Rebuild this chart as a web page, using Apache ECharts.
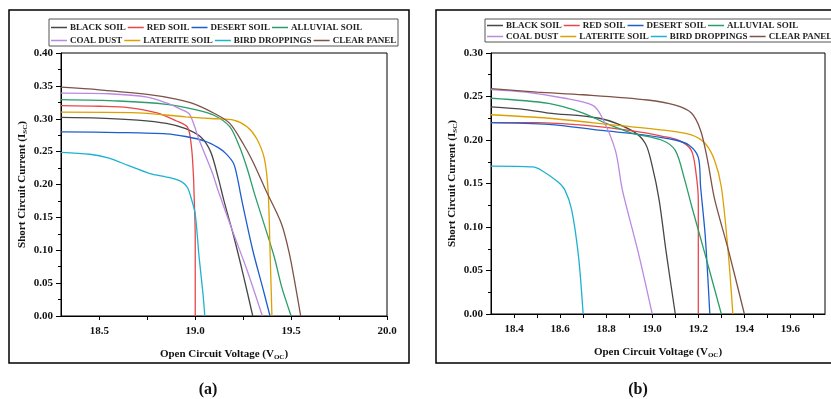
<!DOCTYPE html>
<html>
<head>
<meta charset="utf-8">
<script src="https://cdn.jsdelivr.net/npm/echarts@6/dist/echarts.min.js"></script>
<style>
  html, body { margin: 0; padding: 0; background: #fff; }
  #chart { width: 831px; height: 399px; }
</style>
</head>
<body>
<div id="chart"></div>
<script>
// series names, in legend order
const names = ['BLACK SOIL', 'RED SOIL', 'DESERT SOIL', 'ALLUVIAL SOIL',
               'COAL DUST', 'LATERITE SOIL', 'BIRD DROPPINGS', 'CLEAR PANEL'];

// panel (a): [Voc, Isc]
const aBlack = [[18.3,0.302],[18.5,0.301],[18.7,0.298],[18.85,0.293],[18.95,0.285],[19.03,0.272],[19.08,0.25],[19.12,0.21],[19.15,0.175],[19.2,0.122],[19.25,0.063],[19.3,0]];
const aRed = [[18.3,0.320],[18.5,0.319],[18.65,0.317],[18.8,0.309],[18.9,0.297],[18.96,0.287],[18.98,0.258],[18.99,0.217],[18.995,0.176],[19.0,0.12],[19.0,0]];
const aDesert = [[18.3,0.280],[18.6,0.279],[18.85,0.277],[18.95,0.273],[19.05,0.266],[19.12,0.256],[19.16,0.247],[19.2,0.232],[19.22,0.21],[19.24,0.18],[19.3,0.10],[19.35,0.045],[19.39,0]];
const aAlluvial = [[18.3,0.329],[18.6,0.327],[18.85,0.322],[19.0,0.314],[19.1,0.305],[19.18,0.288],[19.23,0.258],[19.27,0.225],[19.31,0.185],[19.41,0.092],[19.45,0.045],[19.5,0]];
const aCoal = [[18.3,0.339],[18.55,0.338],[18.75,0.333],[18.85,0.324],[18.92,0.315],[18.97,0.307],[19.02,0.268],[19.09,0.217],[19.12,0.19],[19.2,0.125],[19.27,0.07],[19.35,0]];
const aLaterite = [[18.3,0.310],[18.7,0.309],[18.95,0.303],[19.1,0.300],[19.2,0.298],[19.27,0.288],[19.32,0.27],[19.36,0.24],[19.38,0.19],[19.39,0.1],[19.4,0]];
const aBird = [[18.3,0.249],[18.45,0.246],[18.55,0.24],[18.65,0.229],[18.76,0.217],[18.87,0.21],[18.93,0.204],[18.96,0.195],[18.98,0.178],[19.0,0.155],[19.02,0.09],[19.04,0.035],[19.05,0]];
const aClear = [[18.3,0.348],[18.5,0.344],[18.75,0.337],[18.9,0.330],[19.0,0.322],[19.1,0.308],[19.18,0.293],[19.25,0.262],[19.3,0.235],[19.37,0.19],[19.45,0.14],[19.49,0.096],[19.52,0.05],[19.55,0]];

// panel (b)
const bBlack = [[18.3,0.238],[18.45,0.235],[18.55,0.231],[18.77,0.225],[18.91,0.211],[18.97,0.196],[19.0,0.17],[19.03,0.131],[19.06,0.072],[19.1,0]];
const bRed = [[18.3,0.22],[18.5,0.22],[18.7,0.217],[18.9,0.211],[19.05,0.204],[19.12,0.199],[19.17,0.188],[19.19,0.162],[19.2,0.13],[19.2,0]];
const bDesert = [[18.3,0.22],[18.55,0.218],[18.78,0.211],[18.96,0.206],[19.1,0.2],[19.16,0.194],[19.2,0.18],[19.21,0.146],[19.23,0.09],[19.25,0]];
const bAlluvial = [[18.3,0.248],[18.55,0.242],[18.7,0.231],[18.8,0.219],[18.91,0.208],[19.04,0.2],[19.1,0.188],[19.14,0.155],[19.17,0.125],[19.23,0.068],[19.3,0]];
const bCoal = [[18.3,0.258],[18.45,0.255],[18.62,0.248],[18.74,0.24],[18.78,0.227],[18.84,0.188],[18.87,0.143],[18.94,0.07],[19.0,0]];
const bLaterite = [[18.3,0.229],[18.55,0.225],[18.84,0.217],[19.06,0.211],[19.17,0.206],[19.23,0.196],[19.27,0.177],[19.3,0.146],[19.33,0.07],[19.35,0]];
const bBird = [[18.3,0.17],[18.48,0.169],[18.52,0.165],[18.59,0.152],[18.62,0.143],[18.65,0.12],[18.68,0.066],[18.7,0]];
const bClear = [[18.3,0.259],[18.5,0.255],[18.7,0.252],[18.98,0.246],[19.1,0.24],[19.17,0.231],[19.21,0.211],[19.24,0.177],[19.27,0.133],[19.33,0.074],[19.4,0]];

// tick labels
const aXLabels = [18.5, 19.0, 19.5, 20.0];
const aXTicks = [18.5, 18.75, 19.0, 19.25, 19.5, 19.75, 20.0];
const bXLabels = [18.4, 18.6, 18.8, 19.0, 19.2, 19.4, 19.6];
const bXTicks = [18.4, 18.5, 18.6, 18.7, 18.8, 18.9, 19.0, 19.1, 19.2, 19.3, 19.4, 19.5, 19.6, 19.7];

const colors = ['#474747', '#e8474a', '#1d5ecf', '#2a9d68', '#b98ae0', '#dca000', '#1db2d2', '#7e5249'];
const serif = '"Liberation Serif", "Times New Roman", serif';

const chart = echarts.init(document.getElementById('chart'));

const nameRich = {
    n: { fontFamily: serif, fontWeight: 'bold', fontSize: 11, color: '#111', lineHeight: 14 },
    s: { fontFamily: serif, fontWeight: 'bold', fontSize: 7, color: '#111', lineHeight: 9, verticalAlign: 'bottom' }
};
const labelStyle = { fontFamily: serif, fontWeight: 'bold', fontSize: 11, color: '#111' };

function xAxis(gridIndex, min, max, labels, ticks) {
    return {
        type: 'value', gridIndex, min, max,
        name: '{n|Open Circuit Voltage (V}{s|OC}{n|)}',
        nameLocation: 'middle', nameGap: 31,
        nameTextStyle: { rich: nameRich },
        axisLine: { show: true, lineStyle: { color: '#000', width: 1 } },
        axisTick: { show: true, inside: false, length: 4, customValues: ticks, lineStyle: { color: '#000' } },
        axisLabel: { ...labelStyle, margin: 10, customValues: labels, formatter: v => v.toFixed(1) },
        splitLine: { show: false }
    };
}
function yAxis(gridIndex, max) {
    return {
        type: 'value', gridIndex, min: 0, max, interval: 0.05,
        name: '{n|Short Circuit Current (I}{s|SC}{n|)}',
        nameLocation: 'middle', nameGap: 32, nameRotate: 90,
        nameTextStyle: { rich: nameRich },
        axisLine: { show: true, lineStyle: { color: '#000', width: 1 } },
        axisTick: { show: true, inside: false, length: 5, lineStyle: { color: '#000' } },
        minorTick: { show: true, splitNumber: 2, length: 3, lineStyle: { color: '#000' } },
        axisLabel: { ...labelStyle, margin: 8, formatter: v => v.toFixed(2) },
        splitLine: { show: false }
    };
}
function legend(left, top, data) {
    return {
        left, top, data, width: 600, orient: 'horizontal', padding: 0,
        icon: 'rect', itemWidth: 16, itemHeight: 1.5, itemGap: 2,
        selectedMode: false,
        textStyle: { fontFamily: serif, fontWeight: 'bold', fontSize: 9, color: '#222', padding: [0, 0, 0, -2] }
    };
}

const aData = [aBlack, aRed, aDesert, aAlluvial, aCoal, aLaterite, aBird, aClear];
const bData = [bBlack, bRed, bDesert, bAlluvial, bCoal, bLaterite, bBird, bClear];

const series = [];
[aData, bData].forEach((set, p) => {
    set.forEach((d, i) => {
        series.push({
            name: names[i], type: 'line', data: d,
            xAxisIndex: p, yAxisIndex: p,
            smooth: 0.3, showSymbol: false, symbol: 'none',
            lineStyle: { color: colors[i], width: 1.3 },
            itemStyle: { color: colors[i] },
            animation: false
        });
    });
});

const option = {
    animation: false,
    grid: [
        { left: 61, top: 53, width: 326, height: 263, show: true, borderColor: '#000', borderWidth: 1, containLabel: false },
        { left: 491, top: 53, width: 334, height: 261, show: true, borderColor: '#000', borderWidth: 1, containLabel: false }
    ],
    xAxis: [xAxis(0, 18.3, 20.0, aXLabels, aXTicks), xAxis(1, 18.3, 19.75, bXLabels, bXTicks)],
    yAxis: [yAxis(0, 0.40), yAxis(1, 0.30)],
    legend: [
        legend(51, 23, names.slice(0, 4)),
        legend(51, 36, names.slice(4)),
        legend(487, 21, names.slice(0, 4)),
        legend(487, 32, names.slice(4))
    ],
    graphic: [
        { type: 'rect', shape: { x: 9, y: 10, width: 400, height: 353 }, style: { fill: 'none', stroke: '#000', lineWidth: 1.5 } },
        { type: 'rect', shape: { x: 436, y: 10, width: 410, height: 353 }, style: { fill: 'none', stroke: '#000', lineWidth: 1.5 } },
        { type: 'rect', shape: { x: 49, y: 19, width: 349, height: 27 }, style: { fill: 'none', stroke: '#555', lineWidth: 1 } },
        { type: 'rect', shape: { x: 485, y: 19, width: 360, height: 23 }, style: { fill: 'none', stroke: '#555', lineWidth: 1 } },
        { type: 'text', x: 208, y: 390, style: { text: '(a)', font: 'bold 16px ' + serif, fill: '#111', textAlign: 'center', textVerticalAlign: 'middle' } },
        { type: 'text', x: 638, y: 390, style: { text: '(b)', font: 'bold 16px ' + serif, fill: '#111', textAlign: 'center', textVerticalAlign: 'middle' } }
    ],
    series
};

chart.setOption(option);
</script>
</body>
</html>
